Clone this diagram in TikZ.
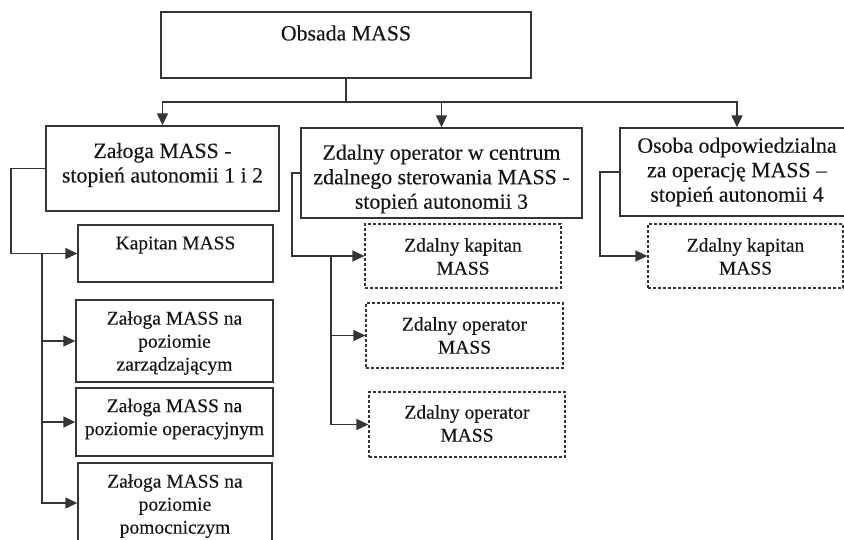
\documentclass[tikz,border=0pt]{standalone}
\usepackage{fontspec}
\setmainfont{Liberation Serif}
\usetikzlibrary{arrows.meta}
\definecolor{linec}{HTML}{353535}
\definecolor{txtc}{HTML}{161616}
\begin{document}
\begin{tikzpicture}[x=1pt,y=-1pt,
  box/.style={draw=linec, line width=1.35pt, rectangle, inner sep=0pt},
  dbox/.style={draw=linec, line width=1.1pt, dash pattern=on 3pt off 2pt, rectangle, inner sep=0pt},
  conn/.style={draw=linec, line width=1.35pt},
  arr/.style={conn, -{Triangle[length=12pt,width=11pt]}},
  bigtxt/.style={align=center, inner sep=0pt, text=txtc, font=\fontsize{21.8}{24.5}\selectfont\addfontfeature{FakeBold=0.3}},
  smalltxt/.style={align=center, inner sep=0pt, text=txtc, font=\fontsize{19.5}{23}\selectfont\addfontfeature{FakeBold=0.3}},
]
\useasboundingbox (0,0) rectangle (844,540);
\clip (0,0) rectangle (844,540);

% top level
\node[box, minimum width=370pt, minimum height=66pt] (top) at (346,45) {};
\node[bigtxt] (topT) at (346,33) {Obsada MASS};

% second level
\node[box, minimum width=233pt, minimum height=85pt] (b1) at (162.5,168.5) {};
\node[box, minimum width=281pt, minimum height=90pt] (b2) at (441.5,173) {};
\node[box, minimum width=234pt, minimum height=88pt] (b3) at (737,172) {};
\node[bigtxt] (b1T) at (162.5,165) {Załoga MASS -\\stopień autonomii 1 i 2};
\node[bigtxt] (b2T) at (441.5,179) {Zdalny operator w centrum\\zdalnego sterowania MASS -\\stopień autonomii 3};
\node[bigtxt] (b3T) at (737,172) {Osoba odpowiedzialna\\za operację MASS –\\stopień autonomii 4};

% crew boxes
\node[box, minimum width=195pt, minimum height=57pt] (k1) at (175.5,253.5) {};
\node[box, minimum width=197pt, minimum height=82pt] (k2) at (174.5,341) {};
\node[box, minimum width=197pt, minimum height=68pt] (k3) at (174.5,422) {};
\node[box, minimum width=194pt, minimum height=80pt] (k4) at (175,503) {};
\node[smalltxt] (k1T) at (175.5,245) {Kapitan MASS};
\node[smalltxt] (k2T) at (174.5,343) {Załoga MASS na\\poziomie\\zarządzającym};
\node[smalltxt] (k3T) at (174.5,419) {Załoga MASS na\\poziomie operacyjnym};
\node[smalltxt] (k4T) at (175,506) {Załoga MASS na\\poziomie\\pomocniczym};

% remote roles
\node[dbox, minimum width=196pt, minimum height=64pt] (d1) at (463,256) {};
\node[dbox, minimum width=197pt, minimum height=65pt] (d2) at (464.5,335.5) {};
\node[dbox, minimum width=196pt, minimum height=65pt] (d3) at (467,424.5) {};
\node[dbox, minimum width=195pt, minimum height=64pt] (d4) at (745.5,256) {};
\node[smalltxt] (d1T) at (463,256.5) {Zdalny kapitan\\MASS};
\node[smalltxt] (d2T) at (464.5,335.5) {Zdalny operator\\MASS};
\node[smalltxt] (d3T) at (467,423.5) {Zdalny operator\\MASS};
\node[smalltxt] (d4T) at (745.5,256.5) {Zdalny kapitan\\MASS};

% trunk positions
\coordinate (hub) at (346,102);
\coordinate (t1) at (11,0);
\coordinate (t1b) at (42,0);
\coordinate (t2) at (292,0);
\coordinate (t2b) at (331,0);
\coordinate (t3) at (600,0);

% top connectors
\draw[conn] (top.south) -- (hub);
\draw[arr] (hub) -| (b1.north);
\draw[arr] (hub) -| (b2.north);
\draw[arr] (hub) -| (b3.north);

% crew branch
\draw[arr] (b1.west) -- (b1.west -| t1) |- (k1.west);
\draw[arr] (t1b |- k1.west) |- (k2.west);
\draw[arr] (t1b |- k1.west) |- (k3.west);
\draw[arr] (t1b |- k1.west) |- (k4.west);

% remote control centre branch
\draw[arr] (b2.west) -- (b2.west -| t2) |- (d1.west);
\draw[arr] (t2b |- d1.west) |- (d2.west);
\draw[arr] (t2b |- d1.west) |- (d3.west);

% autonomy level 4 branch
\draw[arr] (b3.west) -- (b3.west -| t3) |- (d4.west);
\end{tikzpicture}
\end{document}
